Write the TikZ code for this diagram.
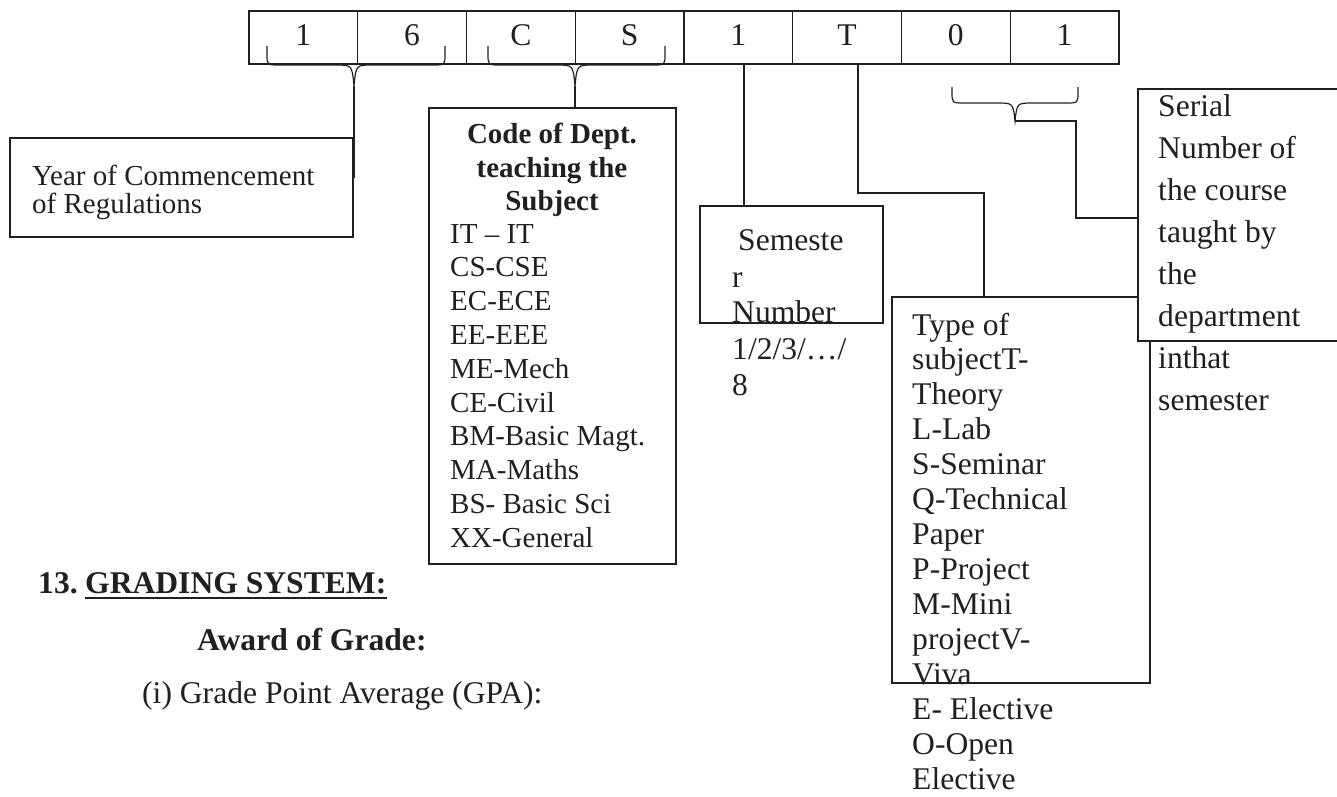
\documentclass[tikz,border=0pt]{standalone}
\usepackage{fontspec}
\setmainfont{Liberation Serif}
\definecolor{ink}{RGB}{35,31,32}
\newcommand{\mybracepath}[6]{%
  \draw[conn] (#1,#3) -- (#1,#4-11) .. controls (#1,#4) .. (#1+12,#4) -- (#5-18,#4)
    .. controls (#5-2,#4) .. (#5,#6) .. controls (#5+2,#4) .. (#5+18,#4)
    -- (#2-12,#4) .. controls (#2,#4) .. (#2,#4-11) -- (#2,#3);}
\begin{document}
\begin{tikzpicture}[x=1pt,y=-1pt,
  conn/.style={draw=ink, line width=1.2pt},
  boxst/.style={draw=ink, line width=1.2pt, rectangle, inner sep=0, outer sep=0, anchor=north west},
  cellst/.style={boxst, minimum width=108.75, minimum height=53},
  smalltx/.style={anchor=base west, inner sep=0, text=ink, font=\fontsize{29}{34}\selectfont},
  bigtx/.style={anchor=base west, inner sep=0, text=ink, font=\fontsize{31.6}{36}\selectfont},
  boldtx/.style={anchor=base, inner sep=0, text=ink, font=\fontsize{29}{34}\selectfont\bfseries},
  headtx/.style={anchor=base west, inner sep=0, text=ink, font=\fontsize{31.6}{36}\selectfont\bfseries}]
\useasboundingbox (0,0) rectangle (1337,796);

% top row of cells
\foreach \ch [count=\i] in {1,6,C,S,1,T,0,1} {
  \node[cellst] (c\i) at ({249+108.75*(\i-1)},11) {};
  \node[bigtx, anchor=base] (d\i) at ({249+108.75*(\i-0.5)},45) {\ch};
}

% braces
\mybracepath{267}{445}{46}{65}{354}{86}
\mybracepath{488}{665}{46}{65}{575}{86}
\mybracepath{952}{1078}{87}{103}{1015}{121}
\coordinate (b1) at (354,86);
\coordinate (b2) at (575,86);
\coordinate (b3) at (1015,121);

% year box
\node[boxst, minimum width=343, minimum height=99] (yearbox) at (10,138) {};
\node[smalltx] (y1) at (32,185) {Year of Commencement};
\node[smalltx] (y2) at (32,213) {of Regulations};
\coordinate (b1end) at (354,178);
\draw[conn] (b1) -- (b1end);

% dept box
\node[boxst, minimum width=247, minimum height=456] (deptbox) at (429,108) {};
\draw[conn] (b2) -- (b2 |- deptbox.north);
\node[boldtx] (t1) at (552,143) {Code of Dept.};
\node[boldtx] (t2) at (552,177) {teaching the};
\node[boldtx] (t3) at (552,210) {Subject};
\foreach \ln [count=\i] in {IT – IT,CS-CSE,EC-ECE,EE-EEE,ME-Mech,CE-Civil,BM-Basic Magt.,MA-Maths,BS- Basic Sci,XX-General} {
  \node[smalltx] (dl\i) at (450,{243+33.8*(\i-1)}) {\ln};
}

% semester box
\node[boxst, minimum width=183, minimum height=117] (sembox) at (700,206) {};
\coordinate (s5) at (744,64);
\draw[conn] (s5) -- (s5 |- sembox.north);
\node[bigtx] (sm1) at (738,250) {Semeste};
\node[bigtx] (sm2) at (732,287) {r};
\node[bigtx] (sm3) at (732,322) {Number};
\node[bigtx] (sm4) at (732,359) {1/2/3/…/};
\node[bigtx] (sm5) at (732,395) {8};

% type box
\node[boxst, minimum width=258, minimum height=386] (typebox) at (892,297) {};
\coordinate (tT) at (858,64);
\coordinate (tk1) at (858,193);
\coordinate (tk2) at (984,193);
\draw[conn] (tT) -- (tk1) -- (tk2) -- (tk2 |- typebox.north);
\foreach \ln [count=\i] in {Type of,subjectT-,Theory,L-Lab,S-Seminar,Q-Technical,Paper,P-Project,M-Mini,projectV-,Viva,E- Elective,O-Open,Elective} {
  \node[bigtx] (tl\i) at (912,{335+34.95*(\i-1)}) {\ln};
}

% serial box (open to the right edge)
\node[inner sep=0, outer sep=0, anchor=north west, minimum width=199, minimum height=252] (serbox) at (1138,89) {};
\fill[white] (serbox.north west) rectangle (serbox.south east);
\draw[conn] (serbox.north east) -- (serbox.north west) -- (serbox.south west) -- (serbox.south east);
\coordinate (k1) at (1076,121);
\coordinate (k2) at (1076,218);
\draw[conn] (b3) -- (k1) -- (k2) -- (k2 -| serbox.west);
\foreach \ln [count=\i] in {Serial,Number of,the course,taught by,the,department,inthat,semester} {
  \node[bigtx] (sl\i) at (1158,{116+42*(\i-1)}) {\ln};
}

% text below
\node[headtx] (h13) at (38,593) {13.};
\node[headtx] (hgs) at (85,593) {GRADING SYSTEM:};
\draw[ink, line width=2.6pt] ([yshift=-5pt]hgs.base west) -- ([yshift=-5pt]hgs.base east);
\node[headtx] (award) at (197,650) {Award of Grade:};
\node[bigtx] (gpa) at (142,703) {(i) Grade Point Average (GPA):};
\end{tikzpicture}
\end{document}
